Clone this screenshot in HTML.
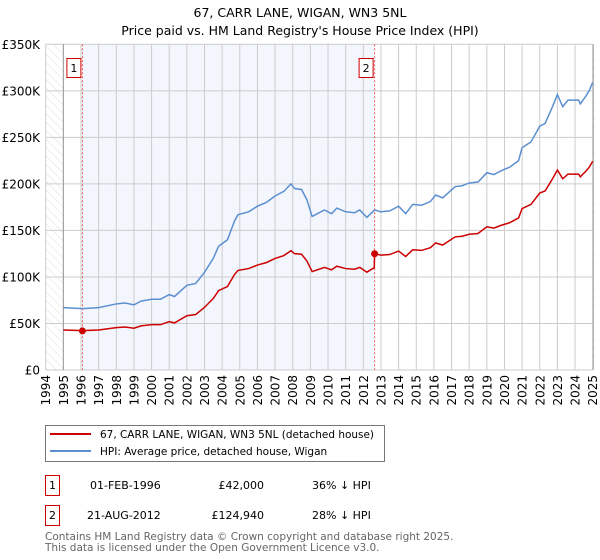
<!DOCTYPE html>
<html><head><meta charset="utf-8"><style>
body{margin:0;background:#fff;}
svg{display:block;font-family:"DejaVu Sans","Liberation Sans",sans-serif;}
</style></head><body>
<svg id="chart" width="600" height="560" viewBox="0 0 600 560" xmlns="http://www.w3.org/2000/svg">
<defs>
<pattern id="hatch" patternUnits="userSpaceOnUse" width="6" height="6" patternTransform="rotate(-45)">
<line x1="0" y1="0" x2="0" y2="6" stroke="#dddddd" stroke-width="1"/>
</pattern>
</defs>
<text x="300" y="17" text-anchor="middle" font-size="12.5">67, CARR LANE, WIGAN, WN3 5NL</text>
<text x="300" y="35" text-anchor="middle" font-size="12.5">Price paid vs. HM Land Registry's House Price Index (HPI)</text>
<g id="plot"></g>
<g>
<rect x="45.5" y="425.5" width="339" height="36" fill="#fff" stroke="#777"/>
<line x1="50" y1="434" x2="91" y2="434" stroke="#cc0000" stroke-width="2"/>
<text x="100" y="438" font-size="10.5" textLength="274" lengthAdjust="spacingAndGlyphs">67, CARR LANE, WIGAN, WN3 5NL (detached house)</text>
<line x1="50" y1="451" x2="91" y2="451" stroke="#5b8fd0" stroke-width="2"/>
<text x="100" y="455" font-size="10.5">HPI: Average price, detached house, Wigan</text>
</g>
<g font-size="11">
<rect x="45.5" y="475.5" width="14" height="20" fill="#fff" stroke="#cc0000"/>
<text x="52.5" y="489" text-anchor="middle">1</text>
<text x="90" y="489">01-FEB-1996</text>
<text x="264" y="489" text-anchor="end">£42,000</text>
<text x="312" y="489">36% ↓ HPI</text>
<rect x="45.5" y="505.5" width="14" height="20" fill="#fff" stroke="#cc0000"/>
<text x="52.5" y="519" text-anchor="middle">2</text>
<text x="87" y="519">21-AUG-2012</text>
<text x="264" y="519" text-anchor="end">£124,940</text>
<text x="312" y="519">28% ↓ HPI</text>
</g>
<g font-size="10.5" fill="#666">
<text x="45" y="540">Contains HM Land Registry data © Crown copyright and database right 2025.</text>
<text x="45" y="551">This data is licensed under the Open Government Licence v3.0.</text>
</g>
</svg>
<script>
const hpiYears=[1995,1996.1,1997,1998,1998.5,1999,1999.4,2000,2000.5,2001,2001.3,2002,2002.5,2003,2003.5,2003.8,2004.3,2004.7,2004.9,2005.5,2006,2006.5,2007,2007.5,2007.9,2008.1,2008.5,2008.8,2009.1,2009.8,2010.2,2010.5,2011,2011.5,2011.8,2012.2,2012.64,2013,2013.5,2014,2014.4,2014.8,2015.3,2015.8,2016.1,2016.5,2017.2,2017.6,2018,2018.5,2019,2019.4,2019.8,2020.3,2020.8,2021,2021.5,2022,2022.3,2022.7,2023,2023.3,2023.6,2024.2,2024.3,2024.6,2024.8,2025];
const hpiValues=[67,66,67,71,72,70,74,76,76,81,79,91,93,105,120,133,140,160,167,170,176,180,187,192,200,195,194,183,165,172,168,174,170,169,172,164,172,170,171,176,168,178,177,181,188,185,197,198,201,202,212,210,214,218,225,239,245,262,265,282,296,283,290,290,286,294,300,309];
const priceYears=[1995,1996.1,1997,1998,1998.5,1999,1999.4,2000,2000.5,2001,2001.3,2002,2002.5,2003,2003.5,2003.8,2004.3,2004.7,2004.9,2005.5,2006,2006.5,2007,2007.5,2007.9,2008.1,2008.5,2008.8,2009.1,2009.8,2010.2,2010.5,2011,2011.5,2011.8,2012.2,2012.62,2012.64,2013,2013.5,2014,2014.4,2014.8,2015.3,2015.8,2016.1,2016.5,2017.2,2017.6,2018,2018.5,2019,2019.4,2019.8,2020.3,2020.8,2021,2021.5,2022,2022.3,2022.7,2023,2023.3,2023.6,2024.2,2024.3,2024.6,2024.8,2025];
const priceValues=[43,42.3,43,45.5,46.2,44.9,47.4,48.7,48.7,51.9,50.6,58.3,59.6,67.3,76.9,85.3,89.7,102.6,107,109,112.8,115.4,119.9,123,128.2,125,124.4,117.3,105.8,110.3,107.7,111.5,109,108.3,110.3,105.1,110,124.9,123.4,124.1,127.8,122,129.2,128.5,131.4,136.5,134.3,143,143.7,145.9,146.7,153.9,152.5,155.4,158.3,163.4,173.5,177.9,190.2,192.4,204.7,214.9,205.5,210.5,210.5,207.6,213.4,217.8,224.3];
const saleYears=[1996.08,2012.64];
const saleValues=[42,124.94];
const saleLabels=["1","2"];
const yTicks=[0,50,100,150,200,250,300,350];
const yTickLabels=["£0","£50K","£100K","£150K","£200K","£250K","£300K","£350K"];
const xTicks=[1994,1995,1996,1997,1998,1999,2000,2001,2002,2003,2004,2005,2006,2007,2008,2009,2010,2011,2012,2013,2014,2015,2016,2017,2018,2019,2020,2021,2022,2023,2024,2025];

const NS="http://www.w3.org/2000/svg";
const L=45.7,R=592.7,T=44.3,B=370;
const X=y=>L+(y-1994)/31*(R-L);
const Y=v=>B-v/350*(B-T);
const g=document.getElementById('plot');
function mk(t,a){const e=document.createElementNS(NS,t);for(const k in a)e.setAttribute(k,a[k]);g.appendChild(e);return e;}
let e;
e=mk('rect',{x:L,y:T,width:R-L,height:B-T,fill:'#fff'});


e=mk('rect',{x:L,y:T,width:X(1995)-L,height:B-T,fill:'url(#hatch)'});


e=mk('rect',{x:X(2025),y:T,width:2.5,height:B-T,fill:'url(#hatch)'});


e=mk('rect',{x:X(saleYears[0]),y:T,width:X(saleYears[1])-X(saleYears[0]),height:B-T,fill:'#f3f6fd'});


xTicks.forEach(t=>{
 e=mk('line',{x1:X(t),x2:X(t),y1:T,y2:B,stroke:'#cccccc','stroke-width':1});
 
 
 e=mk('text',{x:0,y:0,transform:`translate(${X(t)+4.5},${B+5}) rotate(-90)`,'text-anchor':'end','font-size':12});
 e.textContent=t;
 
 
});
yTicks.forEach((t,i)=>{
 e=mk('line',{x1:L,x2:R,y1:Y(t),y2:Y(t),stroke:'#cccccc','stroke-width':1});
 
 
 e=mk('text',{x:40,y:Y(t)+4.5,'text-anchor':'end','font-size':12});
 e.textContent=yTickLabels[i];
 
 
});
e=mk('line',{x1:X(1995),x2:X(1995),y1:T,y2:B,stroke:'#999','stroke-width':1});


e=mk('line',{x1:X(2025)+0.5,x2:X(2025)+0.5,y1:T,y2:B,stroke:'#999','stroke-width':1});


saleYears.forEach((s,i)=>{
 e=mk('line',{x1:X(s),x2:X(s),y1:T,y2:B,stroke:'#ee5555','stroke-width':1,'stroke-dasharray':'2,2'});
 
 
 e=mk('rect',{x:X(s)-15.5,y:58.5,width:14,height:19,fill:'#fff',stroke:'#cc0000'});
 
 
 e=mk('text',{x:X(s)-8.5,y:72,'text-anchor':'middle','font-size':11});
 e.textContent=saleLabels[i];
 
 
});
e=mk('polyline',{points:hpiYears.map((y,i)=>X(y)+','+Y(hpiValues[i])).join(' '),fill:'none',stroke:'#5b8fd0','stroke-width':1.5});


e=mk('polyline',{points:priceYears.map((y,i)=>X(y)+','+Y(priceValues[i])).join(' '),fill:'none',stroke:'#cc0000','stroke-width':1.5});


saleYears.forEach((s,i)=>{
 e=mk('circle',{cx:X(s),cy:Y(saleValues[i]),r:3.5,fill:'#cc0000'});
 
 
});
</script>
</body></html>
